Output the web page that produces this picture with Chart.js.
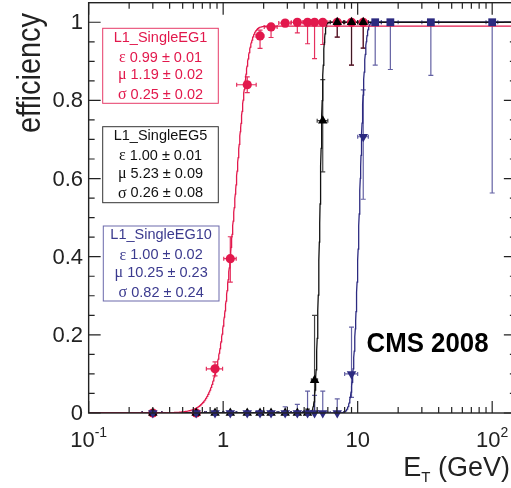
<!DOCTYPE html>
<html>
<head>
<meta charset="utf-8">
<script src="https://cdn.jsdelivr.net/npm/chart.js@4/dist/chart.umd.min.js"></script>
<style>
  html, body { margin: 0; padding: 0; background: #fff; overflow: hidden; }
  canvas { display: block; }
</style>
</head>
<body>
<canvas id="effChart" width="511" height="488"></canvas>
<script>
// E_T bins (GeV): centres and half widths
const binCenters   = [0.3, 0.63, 0.87, 1.13, 1.51, 1.88, 2.27, 2.89, 3.56, 4.24, 4.78, 5.5, 7.05, 9.0, 11.0, 13.5, 17.5, 35, 100];
const binHalfWidth = [0.05, 0.1, 0.12, 0.12, 0.25, 0.12, 0.25, 0.3, 0.35, 0.3, 0.25, 0.5, 0.8, 1.0, 1.0, 1.5, 2.5, 5, 10];

// L1_SingleEG1
const eg1Eff   = [0, 0, 0.113, 0.395, 0.84, 0.965, 0.988, 0.998, 1.0, 1.0, 1.0, 1.0, 1.0, 1.0, 1.0];
const eg1ErrLo = [0, 0, 0.018, 0.06, 0.02, 0.032, 0.027, 0.01, 0.027, 0.055, 0.093, 0.057, 0.038, 0.11, 0.066];
const eg1ErrHi = [0, 0, 0.018, 0.056, 0.02, 0.015, 0.008, 0.002, 0, 0, 0, 0, 0, 0, 0];

// L1_SingleEG5
const eg5Eff   = [0, 0, 0, 0, 0, 0, 0, 0, 0, 0, 0.084, 0.748, 1.0, 1.0, 1.0];
const eg5ErrLo = [0, 0, 0, 0, 0, 0, 0, 0, 0, 0, 0.084, 0.131, 0.038, 0.11, 0.066];
const eg5ErrHi = [0, 0, 0, 0, 0, 0, 0, 0, 0, 0.01, 0.166, 0.105, 0, 0, 0];

// L1_SingleEG10
const eg10Eff   = [0, 0, 0, 0, 0, 0, 0, 0, 0, 0, 0, 0, 0, 0.1, 0.707, 1.0, 1.0, 1.0, 1.0];
const eg10ErrLo = [0, 0, 0, 0, 0, 0, 0, 0, 0, 0, 0, 0, 0, 0.06, 0.16, 0.11, 0.121, 0.136, 0.437];
const eg10ErrHi = [0, 0, 0, 0, 0, 0, 0, 0.016, 0.022, 0.056, 0.045, 0.056, 0.036, 0.12, 0.12, 0, 0, 0, 0];

// turn-on fit results: eps * 0.5 * (1 + erf((x - mu) / (sqrt2 sigma)))
const fitNames    = ['L1_SingleEG1', 'L1_SingleEG5', 'L1_SingleEG10'];
const fitEps      = [0.99, 1.00, 1.00];
const fitEpsErr   = [0.01, 0.01, 0.02];
const fitMu       = [1.19, 5.23, 10.25];
const fitMuErr    = [0.02, 0.09, 0.23];
const fitSigma    = [0.25, 0.26, 0.82];
const fitSigmaErr = [0.02, 0.08, 0.24];

// axis ticks
const xTickValues = [0.1, 1, 10, 100];
const xTickLabels = ['10^-1', '1', '10', '10^2'];
const yTickValues = [0, 0.2, 0.4, 0.6, 0.8, 1];
const yTickLabels = ['0', '0.2', '0.4', '0.6', '0.8', '1'];

const X_VISIBLE_MAX = 138;  // canvas edge
const X_FRAME_MAX = 150;    // frame edge, just past the canvas

const SANS = '"Liberation Sans", Arial, Helvetica, sans-serif';
const SERIF = '"Liberation Serif", "Times New Roman", serif';
const RED = '#e2184c';
const BLACK = '#111111';
const BLUE = '#2c2a80';

function erf(z) {
    const t = 1 / (1 + 0.3275911 * Math.abs(z));
    const y = 1 - (((((1.061405429 * t - 1.453152027) * t) + 1.421413741) * t - 0.284496736) * t + 0.254829592) * t * Math.exp(-z * z);
    return z >= 0 ? y : -y;
}

function fitCurve(i) {
    const pts = [];
    const n = 1200;
    const lo = Math.log10(0.1), hi = Math.log10(X_FRAME_MAX);
    for (let k = 0; k <= n; k++) {
        const x = Math.pow(10, lo + (hi - lo) * k / n);
        const y = fitEps[i] * 0.5 * (1 + erf((x - fitMu[i]) / (fitSigma[i] * Math.SQRT2)));
        pts.push({ x: x, y: y });
    }
    return pts;
}

function toPoints(eff) {
    return eff.map((v, i) => ({ x: binCenters[i], y: v }));
}

const errorSeries = [
    { eff: eg1Eff, lo: eg1ErrLo, hi: eg1ErrHi, color: 'rgba(226,24,76,0.9)' },
    { eff: eg5Eff, lo: eg5ErrLo, hi: eg5ErrHi, color: 'rgba(20,20,20,0.8)' },
    { eff: eg10Eff, lo: eg10ErrLo, hi: eg10ErrHi, color: 'rgba(60,58,140,0.8)' }
];

// draws a label like 10^2 with a raised exponent, centred on x
function drawPowerLabel(ctx, text, x, baseline) {
    const parts = text.split('^');
    ctx.font = '22px ' + SANS;
    const wb = ctx.measureText(parts[0]).width;
    let we = 0;
    if (parts[1]) {
        ctx.font = '14px ' + SANS;
        we = ctx.measureText(parts[1]).width;
    }
    const x0 = x - (wb + we) / 2;
    ctx.textAlign = 'left';
    ctx.textBaseline = 'alphabetic';
    ctx.font = '22px ' + SANS;
    ctx.fillText(parts[0], x0, baseline);
    if (parts[1]) {
        ctx.font = '14px ' + SANS;
        ctx.fillText(parts[1], x0 + wb, baseline - 10);
    }
}

// greek symbol in serif, value in sans, centred together
function drawParam(ctx, sym, value, cx, cy, color) {
    ctx.textBaseline = 'middle';
    ctx.textAlign = 'left';
    ctx.fillStyle = color;
    ctx.font = '16px ' + SERIF;
    const ws = ctx.measureText(sym + ' ').width;
    ctx.font = '14.5px ' + SANS;
    const wv = ctx.measureText(value).width;
    const x0 = cx - (ws + wv) / 2;
    ctx.font = '16px ' + SERIF;
    ctx.fillText(sym, x0, cy);
    ctx.font = '14.5px ' + SANS;
    ctx.fillText(value, x0 + ws, cy);
}

const overlay = {
    id: 'overlay',
    beforeDatasetsDraw(chart) {
        const ctx = chart.ctx;
        const xs = chart.scales.x, ys = chart.scales.y;
        const area = chart.chartArea;
        ctx.save();
        ctx.beginPath();
        ctx.rect(area.left, area.top, area.right - area.left, area.bottom - area.top);
        ctx.clip();
        ctx.lineWidth = 1.2;
        errorSeries.forEach(s => {
            ctx.strokeStyle = s.color;
            s.eff.forEach((v, i) => {
                const px = xs.getPixelForValue(binCenters[i]);
                const py = ys.getPixelForValue(v);
                const xl = xs.getPixelForValue(binCenters[i] - binHalfWidth[i]);
                const xr = xs.getPixelForValue(binCenters[i] + binHalfWidth[i]);
                ctx.beginPath();
                ctx.moveTo(xl, py); ctx.lineTo(xr, py);
                ctx.moveTo(xl, py - 2); ctx.lineTo(xl, py + 2);
                ctx.moveTo(xr, py - 2); ctx.lineTo(xr, py + 2);
                if (s.lo[i] > 0) {
                    const yl = ys.getPixelForValue(v - s.lo[i]);
                    ctx.moveTo(px, py); ctx.lineTo(px, yl);
                    ctx.moveTo(px - 2.5, yl); ctx.lineTo(px + 2.5, yl);
                }
                if (s.hi[i] > 0) {
                    const yh = ys.getPixelForValue(v + s.hi[i]);
                    ctx.moveTo(px, py); ctx.lineTo(px, yh);
                    ctx.moveTo(px - 2.5, yh); ctx.lineTo(px + 2.5, yh);
                }
                ctx.stroke();
            });
        });
        ctx.restore();
    },
    afterDraw(chart) {
        const ctx = chart.ctx;
        const xs = chart.scales.x, ys = chart.scales.y;
        const a = chart.chartArea;
        const frameRight = xs.getPixelForValue(X_FRAME_MAX);
        ctx.save();

        // frame (right side falls just outside the canvas)
        ctx.strokeStyle = '#222';
        ctx.lineWidth = 1.4;
        ctx.strokeRect(a.left, a.top, frameRight - a.left, a.bottom - a.top);

        // inward ticks on all four sides
        ctx.lineWidth = 1.2;
        ctx.beginPath();
        for (let v = 0; v <= 1.0001; v += 0.05) {
            const major = Math.abs(v / 0.2 - Math.round(v / 0.2)) < 1e-6;
            const len = major ? 12 : 6;
            const py = ys.getPixelForValue(v);
            ctx.moveTo(a.left, py); ctx.lineTo(a.left + len, py);
            ctx.moveTo(frameRight, py); ctx.lineTo(frameRight - len, py);
        }
        for (let d = 0.1; d < 200; d *= 10) {
            for (let m = 1; m <= 9; m++) {
                const v = d * m;
                if (v > X_FRAME_MAX) break;
                const len = m === 1 ? 12 : 6;
                const px = xs.getPixelForValue(v);
                ctx.moveTo(px, a.bottom); ctx.lineTo(px, a.bottom - len);
                ctx.moveTo(px, a.top); ctx.lineTo(px, a.top + len);
            }
        }
        ctx.stroke();

        // tick labels
        ctx.fillStyle = '#222';
        xTickValues.forEach((v, i) => drawPowerLabel(ctx, xTickLabels[i], xs.getPixelForValue(v), 446.5));
        ctx.font = '22px ' + SANS;
        ctx.textAlign = 'right';
        ctx.textBaseline = 'middle';
        yTickValues.forEach((v, i) => ctx.fillText(yTickLabels[i], 83, ys.getPixelForValue(v) + 1));

        // axis titles
        ctx.save();
        ctx.translate(40, 133);
        ctx.rotate(-Math.PI / 2);
        ctx.font = '33px ' + SANS;
        const wEff = ctx.measureText('efficiency').width;
        ctx.scale(120 / wEff, 1);
        ctx.textAlign = 'left';
        ctx.textBaseline = 'alphabetic';
        ctx.fillText('efficiency', 0, 0);
        ctx.restore();

        ctx.font = '27px ' + SANS;
        const wE = ctx.measureText('E').width;
        const wG = ctx.measureText(' (GeV)').width;
        ctx.font = '15px ' + SANS;
        const wT = ctx.measureText('T').width;
        const xStart = 510 - (wE + wT + wG);
        ctx.textAlign = 'left';
        ctx.textBaseline = 'alphabetic';
        ctx.font = '27px ' + SANS;
        ctx.fillText('E', xStart, 476);
        ctx.fillText(' (GeV)', xStart + wE + wT, 476);
        ctx.font = '15px ' + SANS;
        ctx.fillText('T', xStart + wE, 482);

        // fit result boxes
        const boxes = [
            { l: 102.7, t: 28.3, r: 218.3, b: 103.3, color: RED, border: 'rgba(226,24,76,0.85)' },
            { l: 102.7, t: 126.7, r: 218.3, b: 202.7, color: BLACK, border: '#333' },
            { l: 103.3, t: 226, r: 219, b: 301, color: '#3b3a8e', border: 'rgba(70,68,150,0.8)' }
        ];
        const lineOffsets = [9.3, 29.3, 46.8, 66.6];
        boxes.forEach((bx, i) => {
            ctx.lineWidth = 1;
            ctx.strokeStyle = bx.border;
            ctx.strokeRect(bx.l, bx.t, bx.r - bx.l, bx.b - bx.t);
            const cx = (bx.l + bx.r) / 2;
            ctx.fillStyle = bx.color;
            ctx.font = '14.5px ' + SANS;
            ctx.textAlign = 'center';
            ctx.textBaseline = 'middle';
            ctx.fillText(fitNames[i], cx, bx.t + lineOffsets[0]);
            drawParam(ctx, '\u03b5', fitEps[i].toFixed(2) + ' \u00b1 ' + fitEpsErr[i].toFixed(2), cx, bx.t + lineOffsets[1], bx.color);
            drawParam(ctx, '\u03bc', fitMu[i].toFixed(2) + ' \u00b1 ' + fitMuErr[i].toFixed(2), cx, bx.t + lineOffsets[2], bx.color);
            drawParam(ctx, '\u03c3', fitSigma[i].toFixed(2) + ' \u00b1 ' + fitSigmaErr[i].toFixed(2), cx, bx.t + lineOffsets[3], bx.color);
        });

        // experiment label
        ctx.fillStyle = '#000';
        ctx.font = 'bold 27px ' + SANS;
        const wCms = ctx.measureText('CMS 2008').width;
        ctx.save();
        ctx.translate(427.5, 345);
        ctx.scale(122 / wCms, 1);
        ctx.textAlign = 'center';
        ctx.textBaseline = 'middle';
        ctx.fillText('CMS 2008', 0, 0);
        ctx.restore();

        ctx.restore();
    }
};

const ctx = document.getElementById('effChart').getContext('2d');
const effChart = new Chart(ctx, {
    type: 'scatter',
    data: {
        datasets: [
            {
                label: fitNames[2],
                data: toPoints(eg10Eff),
                order: 1,
                clip: false,
                backgroundColor: BLUE,
                borderColor: BLUE,
                borderWidth: 0,
                pointStyle: c => (c.raw && c.raw.y >= 1 ? 'rect' : 'triangle'),
                rotation: c => (c.raw && c.raw.y >= 1 ? 0 : 180),
                pointRadius: 5.5
            },
            {
                label: fitNames[1],
                data: toPoints(eg5Eff),
                order: 2,
                clip: false,
                backgroundColor: '#000',
                borderColor: '#000',
                borderWidth: 0,
                pointStyle: 'triangle',
                pointRadius: 5.5
            },
            {
                label: fitNames[0],
                data: toPoints(eg1Eff),
                order: 3,
                clip: false,
                backgroundColor: RED,
                borderColor: RED,
                borderWidth: 0,
                pointStyle: 'circle',
                pointRadius: 4.6
            },
            {
                type: 'line', data: fitCurve(0), order: 4, borderColor: RED,
                borderWidth: 1.3, pointRadius: 0, tension: 0, fill: false
            },
            {
                type: 'line', data: fitCurve(1), order: 5, borderColor: BLACK,
                borderWidth: 1.3, pointRadius: 0, tension: 0, fill: false
            },
            {
                type: 'line', data: fitCurve(2), order: 6, borderColor: BLUE,
                borderWidth: 1.3, pointRadius: 0, tension: 0, fill: false
            }
        ]
    },
    options: {
        responsive: false,
        animation: false,
        devicePixelRatio: 1,
        layout: { autoPadding: false, padding: { top: 2.7, right: 0, left: 0, bottom: 0 } },
        plugins: { legend: { display: false }, tooltip: { enabled: false } },
        scales: {
            x: {
                type: 'logarithmic',
                min: 0.1,
                max: X_VISIBLE_MAX,
                grid: { display: false, drawTicks: false },
                border: { display: false },
                ticks: { display: false },
                afterFit: s => { s.height = 75; }
            },
            y: {
                type: 'linear',
                min: 0,
                max: 1.05,
                grid: { display: false, drawTicks: false },
                border: { display: false },
                ticks: { display: false },
                afterFit: s => { s.width = 88.65; }
            }
        }
    },
    plugins: [overlay]
});
</script>
</body>
</html>
